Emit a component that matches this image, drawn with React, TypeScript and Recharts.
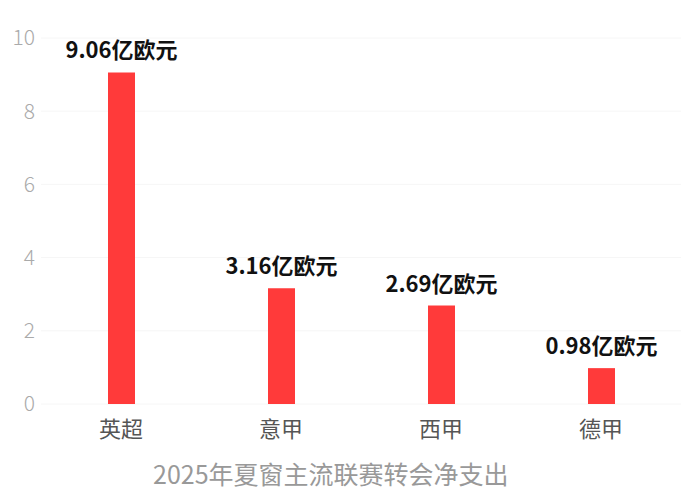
import React from "react";
import { BarChart, Bar, XAxis, YAxis, CartesianGrid, LabelList } from "recharts";

// 2025 summer window net spend, in 亿欧元
const leagues = ["英超", "意甲", "西甲", "德甲"];
const netSpend = [9.06, 3.16, 2.69, 0.98];
const yTicks = [0, 2, 4, 6, 8, 10];
const unit = "亿欧元";
const title = "2025年夏窗主流联赛转会净支出";

const data = leagues.map((name, i) => ({ name, value: netSpend[i] }));

const font = '"Noto Sans CJK SC", "Noto Sans", sans-serif';

export default function App() {
  return (
    <div style={{ position: "absolute", left: 0, top: 0, width: 690, height: 498, background: "#fff", fontFamily: font }}>
      <BarChart
        width={690}
        height={498}
        data={data}
        margin={{ top: 38, right: 9, bottom: 44, left: 0 }}
        barSize={27}
      >
        <CartesianGrid vertical={false} stroke="#f6f6f6" />
        <XAxis
          dataKey="name"
          axisLine={false}
          tickLine={false}
          tickMargin={11}
          height={50}
          tick={{ fill: "#555", fontSize: 22, fontFamily: font }}
        />
        <YAxis
          domain={[0, 10]}
          ticks={yTicks}
          width={41}
          axisLine={false}
          tickLine={false}
          tickMargin={0}
          tick={{ fill: "#aaa", fontSize: 21, fontWeight: 300, fontFamily: font }}
        />
        <Bar dataKey="value" fill="#ff3a3a" isAnimationActive={false}>
          <LabelList
            dataKey="value"
            position="top"
            offset={14}
            formatter={(v: number) => `${v.toFixed(2)}${unit}`}
            style={{ fill: "#111", fontSize: 22, fontWeight: 700, fontFamily: font }}
          />
        </Bar>
      </BarChart>
      <div
        style={{
          position: "absolute",
          left: 153,
          top: 457,
          fontSize: 25,
          lineHeight: "32px",
          color: "#999",
          whiteSpace: "nowrap",
        }}
      >
        {title}
      </div>
    </div>
  );
}
